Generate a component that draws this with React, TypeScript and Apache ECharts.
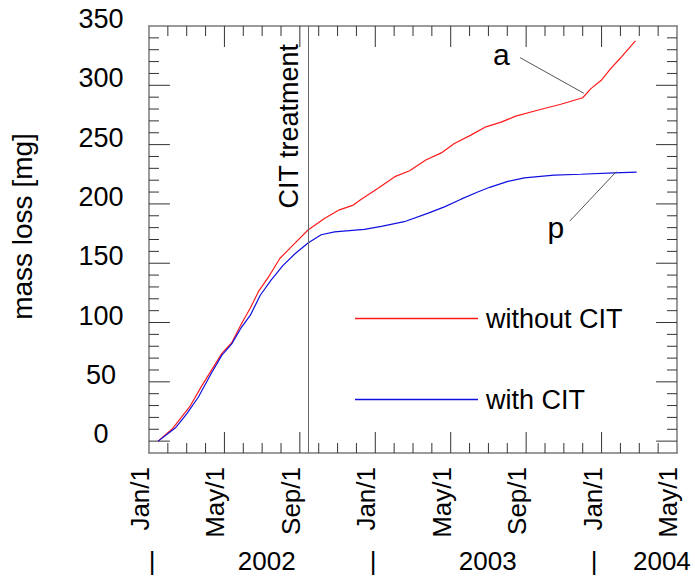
import React, { useEffect, useRef } from 'react';
import * as echarts from 'echarts';

// ---- data (dates -> cumulative mass loss in mg) ----
const withoutCIT: [string, number][] = [
  ['2002-01-16', 0], ['2002-02-07', 10], ['2002-03-06', 29], ['2002-03-25', 46],
  ['2002-04-27', 74], ['2002-05-13', 83], ['2002-05-29', 99], ['2002-06-12', 112],
  ['2002-06-25', 126], ['2002-07-11', 138], ['2002-07-30', 154], ['2002-08-24', 167],
  ['2002-09-14', 178], ['2002-10-11', 188], ['2002-11-04', 195], ['2002-11-26', 199],
  ['2002-12-09', 204], ['2003-01-05', 213], ['2003-02-02', 223], ['2003-02-24', 228],
  ['2003-03-22', 237], ['2003-04-16', 243], ['2003-05-07', 251], ['2003-06-03', 258],
  ['2003-06-27', 265], ['2003-07-22', 269], ['2003-08-15', 274], ['2003-09-19', 279],
  ['2003-10-27', 284], ['2003-12-01', 289.5], ['2003-12-14', 297], ['2003-12-31', 304],
  ['2004-01-16', 314], ['2004-02-01', 323], ['2004-02-24', 337.5],
];
const withCIT: [string, number][] = [
  ['2002-01-16', 0], ['2002-02-12', 11], ['2002-03-01', 23], ['2002-03-20', 37],
  ['2002-04-10', 57], ['2002-04-27', 72.5], ['2002-05-13', 82], ['2002-05-29', 96],
  ['2002-06-12', 106], ['2002-06-28', 123], ['2002-07-16', 136], ['2002-08-04', 148],
  ['2002-08-24', 158], ['2002-09-14', 167], ['2002-10-05', 174], ['2002-10-27', 176.5],
  ['2002-12-14', 178.5], ['2003-01-11', 181], ['2003-02-16', 185], ['2003-03-25', 192],
  ['2003-04-21', 197.5], ['2003-05-18', 204], ['2003-06-14', 210], ['2003-07-03', 214],
  ['2003-08-02', 219], ['2003-08-29', 222], ['2003-10-16', 224.3], ['2003-11-28', 225],
  ['2004-01-21', 226.2], ['2004-02-26', 226.8],
];
const citDate = '2002-09-14';
const monthLabels = ['Jan/1', 'May/1', 'Sep/1', 'Jan/1', 'May/1', 'Sep/1', 'Jan/1', 'May/1'];
const yearLabels = ['|', '2002', '|', '2003', '|', '2004'];
const yearLabelMonths = [0.16, 6.24, 11.88, 17.96, 23.6, 27.2];
const yMajorTicks = [0, 50, 100, 150, 200, 250, 300, 350];
const X_MIN = 0, X_MAX = 28, X_MAJOR = 4;      // months since Jan 2002
const Y_MIN = -10, Y_MAX = 350, Y_MINOR = 10;  // mg
// annotations: [months since Jan 2002, mg]
const annotA = { text: 'a', at: [18.69, 326], from: [19.68, 323.3], to: [23.06, 293.3] };
const annotP = { text: 'p', at: [21.58, 179.7], from: [22.32, 185.6], to: [24.78, 227.2] };

// tick lists: [value, isMajor]
const xTicks: [number, number][] = [];
for (let m = X_MIN + 1; m < X_MAX; m++) xTicks.push([m, m % X_MAJOR === 0 ? 1 : 0]);
const yTicks: [number, number][] = [];
for (let v = Y_MIN + Y_MINOR; v < Y_MAX; v += Y_MINOR) yTicks.push([v, yMajorTicks.includes(v) ? 1 : 0]);

const START_YEAR = 2002;
function toMonth(d: string): number {
  const [y, m, day] = d.split('-').map(Number);
  const dim = new Date(y, m, 0).getDate();
  return (y - START_YEAR) * 12 + (m - 1) + (day - 1) / dim;
}

const FONT = "'Liberation Sans', Arial, Helvetica, sans-serif";
const W = 695, H = 578;
const GRID = { left: 147, right: 18, top: 26, bottom: 125 };
const MAJOR_LEN = 21, MINOR_LEN = 10; // px
const X_PER_PX = (X_MAX - X_MIN) / (W - GRID.left - GRID.right);
const Y_PER_PX = (Y_MAX - Y_MIN) / (H - GRID.top - GRID.bottom);

// tick segments as a gapped polyline (null separates segments)
function tickPolyline() {
  const pts: any[] = [];
  for (const [m, major] of xTicks) {
    const d = (major ? MAJOR_LEN : MINOR_LEN) * Y_PER_PX;
    pts.push([m, Y_MIN], [m, Y_MIN + d], null);
    pts.push([m, Y_MAX], [m, Y_MAX - d], null);
  }
  for (const [v, major] of yTicks) {
    const d = (major ? MAJOR_LEN : MINOR_LEN) * X_PER_PX;
    pts.push([X_MIN, v], [X_MIN + d, v], null);
    pts.push([X_MAX, v], [X_MAX - d, v], null);
  }
  return pts;
}

export default function App() {
  const ref = useRef<HTMLDivElement>(null);
  useEffect(() => {
    if (!ref.current) return;
    const chart = echarts.init(ref.current, undefined, { renderer: 'svg' });
    const frameLine = { show: true, onZero: false, lineStyle: { color: '#7a7a7a', width: 1.5 } };
    const xBase = { type: 'value', min: X_MIN, max: X_MAX, interval: X_MAJOR, splitLine: { show: false }, axisLine: frameLine, axisTick: { show: false } };
    const yBase = { type: 'value', min: Y_MIN, max: Y_MAX, splitLine: { show: false }, axisLine: frameLine, axisTick: { show: false } };
    const option: any = {
      animation: false,
      textStyle: { fontFamily: FONT },
      grid: { ...GRID, show: false },
      legend: {
        orient: 'vertical', left: 350, top: 294, itemWidth: 123, itemHeight: 1.3, itemGap: 42,
        icon: 'rect', selectedMode: false,
        textStyle: { fontSize: 27, color: '#000', lineHeight: 30, padding: [0, 0, 9, 3], fontFamily: FONT },
        data: ['without CIT', 'with CIT'],
      },
      xAxis: [
        {
          ...xBase, position: 'bottom',
          axisLabel: {
            rotate: 90, margin: 14, fontSize: 26, color: '#000', fontFamily: FONT,
            verticalAlign: 'bottom', lineHeight: 18, showMinLabel: true, showMaxLabel: true,
            formatter: (v: number) => monthLabels[Math.round(v / X_MAJOR)] ?? '',
          },
        },
        { ...xBase, position: 'top', axisLabel: { show: false } },
        {
          type: 'value', min: X_MIN, max: X_MAX, position: 'bottom', splitLine: { show: false },
          axisLine: { show: false, onZero: false }, axisTick: { show: false },
          axisLabel: {
            customValues: yearLabelMonths, margin: 95, fontSize: 26, lineHeight: 26, color: '#000', fontFamily: FONT,
            showMinLabel: true, showMaxLabel: true,
            formatter: (v: number) => {
              const i = yearLabelMonths.findIndex((p) => Math.abs(p - v) < 1e-6);
              return i >= 0 ? yearLabels[i] : '';
            },
          },
        },
      ],
      yAxis: [
        {
          ...yBase, position: 'left',
          axisLabel: {
            customValues: yMajorTicks, margin: 48, align: 'center', verticalAlign: 'bottom', lineHeight: 14,
            fontSize: 27, color: '#000', fontFamily: FONT,
          },
          name: 'mass loss [mg]', nameLocation: 'middle', nameRotate: 90, nameGap: 113,
          nameTextStyle: { fontSize: 28, color: '#000', fontFamily: FONT, padding: [0, 0, 0, 26] },
        },
        { ...yBase, position: 'right', axisLabel: { show: false } },
      ],
      series: [
        {
          name: 'frame ticks', type: 'line', symbol: 'none', showSymbol: false, silent: true,
          clip: false, connectNulls: false, z: 3, emphasis: { disabled: true },
          lineStyle: { color: '#333', width: 1 }, itemStyle: { color: '#333' },
          data: tickPolyline(),
        },
        {
          name: 'without CIT', type: 'line', symbol: 'none', showSymbol: false,
          lineStyle: { color: '#ff1a1a', width: 1.2 }, itemStyle: { color: '#ff1a1a' },
          data: withoutCIT.map(([d, v]) => [toMonth(d), v]),
          markLine: {
            silent: true, symbol: ['none', 'none'], animation: false,
            data: [
              {
                xAxis: toMonth(citDate),
                lineStyle: { color: '#666', width: 1, type: 'solid' },
                label: {
                  show: true, formatter: 'CIT treatment', position: 'insideEndTop', fontSize: 27,
                  color: '#000', fontFamily: FONT, distance: [18, 5],
                },
              },
              [
                { coord: annotA.from, lineStyle: { color: '#555', width: 1, type: 'solid' }, label: { show: false } },
                { coord: annotA.to },
              ],
            ],
          },
          markPoint: {
            silent: true, symbol: 'circle', symbolSize: 1, itemStyle: { color: 'rgba(0,0,0,0)' },
            label: { show: true, position: 'inside', fontSize: 30, color: '#000', fontFamily: FONT },
            data: [{ coord: annotA.at, label: { formatter: annotA.text } }],
          },
        },
        {
          name: 'with CIT', type: 'line', symbol: 'none', showSymbol: false,
          lineStyle: { color: '#1010e0', width: 1.2 }, itemStyle: { color: '#1010e0' },
          data: withCIT.map(([d, v]) => [toMonth(d), v]),
          markLine: {
            silent: true, symbol: ['none', 'none'], animation: false,
            data: [
              [
                { coord: annotP.from, lineStyle: { color: '#555', width: 1, type: 'solid' }, label: { show: false } },
                { coord: annotP.to },
              ],
            ],
          },
          markPoint: {
            silent: true, symbol: 'circle', symbolSize: 1, itemStyle: { color: 'rgba(0,0,0,0)' },
            label: { show: true, position: 'inside', fontSize: 30, color: '#000', fontFamily: FONT },
            data: [{ coord: annotP.at, label: { formatter: annotP.text } }],
          },
        },
      ],
    };
    chart.setOption(option);
    return () => chart.dispose();
  }, []);
  return <div ref={ref} style={{ position: 'absolute', left: 0, top: 0, width: W, height: H }} />;
}
